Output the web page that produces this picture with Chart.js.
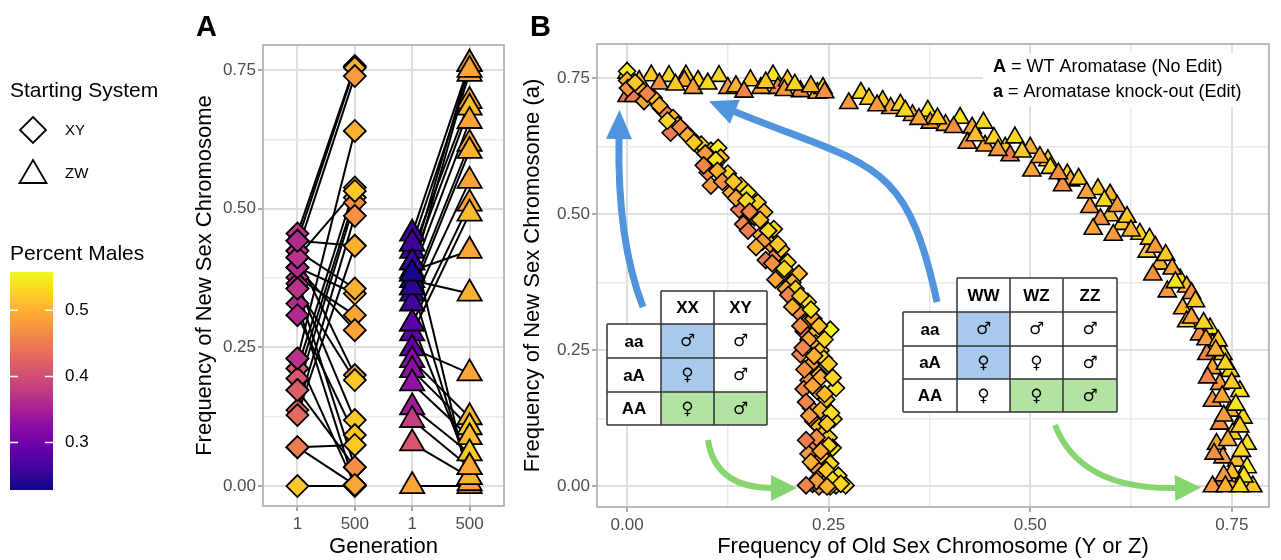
<!DOCTYPE html>
<html><head><meta charset="utf-8">
<script src="https://cdn.jsdelivr.net/npm/chart.js@4.4.1/dist/chart.umd.min.js"></script>
<style>
html,body{margin:0;padding:0;background:#fff;}
#wrap{position:relative;width:1281px;height:560px;overflow:hidden;background:#fff;}
canvas{position:absolute;top:0;left:0;}
</style></head><body>
<div id="wrap"><canvas id="cB" width="1281" height="560"></canvas><canvas id="cA" width="520" height="560"></canvas></div>
<script>
// ---------------- DATA ----------------
// Panel A: generation categories (XY group then ZW group)
const aCategories = ['1','500','1','500'];
// XY replicates: frequency of new sex chromosome at gen 1 and gen 500, and percent males
const xyGen1   = [0.455,0.442,0.424,0.412,0.394,0.376,0.365,0.356,0.329,0.308,0.230,0.212,0.194,0.173,0.137,0.128,0.070,0.000,0.424,0.394,0.412,0.356,0.230,0.173,0.070,0.442];
const xyGen500 = [0.757,0.754,0.739,0.200,0.347,0.308,0.119,0.034,0.002,0.092,0.640,0.538,0.520,0.511,0.487,0.433,0.074,0.000,0.356,0.281,0.532,0.191,0.002,0.034,0.002,0.433];
const xyPm1    = [0.37,0.36,0.38,0.37,0.36,0.37,0.36,0.37,0.36,0.36,0.37,0.41,0.41,0.42,0.43,0.43,0.45,0.52,0.38,0.36,0.37,0.37,0.37,0.42,0.45,0.36];
const xyPm500  = [0.50,0.50,0.48,0.48,0.50,0.49,0.52,0.47,0.49,0.52,0.50,0.52,0.52,0.47,0.47,0.50,0.52,0.49,0.50,0.49,0.52,0.52,0.49,0.47,0.49,0.50];
// ZW replicates
const zwGen1   = [0.455,0.437,0.424,0.403,0.388,0.383,0.371,0.358,0.347,0.329,0.293,0.275,0.248,0.227,0.209,0.185,0.142,0.119,0.077,0.000,0.437,0.403,0.358,0.293,0.383];
const zwGen500 = [0.761,0.743,0.694,0.682,0.424,0.658,0.347,0.617,0.604,0.550,0.509,0.491,0.203,0.124,0.106,0.088,0.059,0.034,0.016,0.000,0.005,0.761,0.016,0.034,0.750];
const zwPm1    = [0.258,0.258,0.26,0.255,0.235,0.235,0.245,0.25,0.255,0.262,0.281,0.285,0.29,0.32,0.327,0.33,0.344,0.384,0.41,0.49,0.258,0.255,0.25,0.281,0.235];
const zwPm500  = [0.49,0.49,0.49,0.51,0.49,0.49,0.50,0.49,0.50,0.49,0.49,0.51,0.49,0.50,0.52,0.51,0.52,0.49,0.52,0.49,0.49,0.48,0.50,0.49,0.49];

// Panel B: frequency of old (x) vs new (y) sex chromosome, percent males
const bXyOld = [0.000,0.000,0.001,0.014,0.021,0.033,0.042,0.048,0.057,0.063,
0.054,0.071,0.079,0.088,0.092,0.104,0.113,0.116,0.108,0.100,
0.120,0.125,0.104,0.141,0.129,0.150,0.162,0.139,0.158,0.170,
0.144,0.182,0.166,0.178,0.185,0.191,0.172,0.199,0.213,0.191,
0.205,0.197,0.209,0.224,0.212,0.222,0.231,0.252,0.219,0.231,
0.234,0.215,0.240,0.244,0.228,0.238,0.225,0.259,0.219,0.236,
0.247,0.228,0.256,0.231,0.238,0.243,0.250,0.255,0.231,0.225,
0.243,0.252,0.234,0.262,0.240,0.230,0.244,0.259,0.271,0.238,0.252,
0.010,0.025,0.040,0.050,0.066,0.075,0.083,0.097,0.110,0.095,
0.112,0.118,0.132,0.135,0.148,0.152,0.165,0.150,0.175,0.168,
0.160,0.187,0.180,0.195,0.184,0.200,0.215,0.205,0.228,0.215,
0.238,0.225,0.245,0.218,0.232,0.250,0.220,0.240,0.255,0.230,
0.245,0.222,0.240,0.253,0.226,0.248,0.235,0.222,0.250,0.240,
0.228,0.247,0.235,0.255,0.222,0.265,0.248];
const bXyNew = [0.763,0.746,0.732,0.735,0.708,0.714,0.695,0.686,0.677,0.664,
0.650,0.653,0.641,0.626,0.628,0.617,0.622,0.604,0.590,0.577,
0.564,0.575,0.553,0.553,0.540,0.540,0.522,0.509,0.495,0.504,
0.482,0.473,0.462,0.445,0.425,0.436,0.416,0.412,0.391,0.389,
0.375,0.363,0.363,0.339,0.321,0.300,0.308,0.288,0.285,0.279,
0.263,0.243,0.250,0.235,0.224,0.206,0.195,0.181,0.179,0.175,
0.160,0.144,0.124,0.120,0.110,0.097,0.090,0.071,0.078,0.060,
0.053,0.042,0.035,0.020,0.020,0.005,0.005,0.002,0.002,0.000,0.000,
0.742,0.722,0.700,0.672,0.660,0.645,0.632,0.612,0.600,0.590,
0.580,0.560,0.560,0.530,0.525,0.505,0.490,0.470,0.470,0.450,
0.440,0.445,0.410,0.400,0.380,0.352,0.350,0.330,0.325,0.295,
0.295,0.270,0.270,0.255,0.240,0.225,0.215,0.200,0.200,0.185,
0.170,0.155,0.140,0.135,0.130,0.115,0.090,0.085,0.075,0.065,
0.045,0.030,0.010,0.012,0.002,0.005,0.000];
const bXyPm = [0.55,0.50,0.47,0.50,0.49,0.51,0.48,0.46,0.50,0.52,
0.45,0.49,0.52,0.50,0.53,0.49,0.55,0.51,0.47,0.46,
0.50,0.53,0.48,0.52,0.50,0.54,0.52,0.45,0.49,0.51,
0.46,0.53,0.50,0.49,0.47,0.52,0.45,0.53,0.51,0.48,
0.50,0.49,0.53,0.54,0.47,0.50,0.49,0.56,0.44,0.51,
0.50,0.46,0.52,0.53,0.48,0.50,0.47,0.54,0.46,0.49,
0.52,0.48,0.53,0.47,0.50,0.51,0.52,0.54,0.46,0.48,
0.50,0.53,0.47,0.54,0.49,0.45,0.50,0.52,0.54,0.47,0.51,
0.52,0.46,0.50,0.53,0.47,0.50,0.52,0.48,0.54,0.46,
0.50,0.47,0.52,0.49,0.53,0.46,0.51,0.45,0.53,0.48,
0.50,0.52,0.47,0.53,0.49,0.46,0.52,0.50,0.54,0.47,
0.51,0.49,0.53,0.46,0.50,0.52,0.47,0.50,0.53,0.49,
0.51,0.46,0.50,0.54,0.48,0.52,0.47,0.45,0.53,0.49,
0.50,0.52,0.48,0.54,0.46,0.53,0.50];
const bZwOld = [0.000,0.000,0.008,0.030,0.052,0.073,0.071,0.088,0.114,0.125,
0.153,0.166,0.181,0.187,0.199,0.215,0.236,0.243,0.275,0.290,
0.317,0.327,0.339,0.354,0.373,0.376,0.395,0.413,0.428,0.442,
0.422,0.444,0.469,0.481,0.500,0.475,0.502,0.522,0.546,0.550,
0.540,0.584,0.599,0.574,0.599,0.587,0.614,0.578,0.636,0.603,
0.645,0.661,0.652,0.686,0.694,0.670,0.689,0.694,0.723,0.710,
0.726,0.719,0.739,0.726,0.748,0.735,0.760,0.726,0.748,0.764,
0.735,0.751,0.731,0.769,0.739,0.756,0.769,0.735,0.751,0.769,
0.776,0.726,
0.015,0.040,0.060,0.082,0.100,0.135,0.145,0.172,0.195,0.208,
0.228,0.245,0.300,0.310,0.345,0.362,0.385,0.405,0.432,0.455,
0.460,0.490,0.512,0.525,0.535,0.560,0.570,0.592,0.608,0.620,
0.625,0.648,0.655,0.668,0.676,0.680,0.700,0.705,0.700,0.715,
0.718,0.733,0.730,0.742,0.720,0.750,0.738,0.755,0.740,0.760,
0.745,0.762,0.728,0.750,0.765,0.740,0.742,0.760];
const bZwNew = [0.760,0.717,0.717,0.755,0.754,0.755,0.745,0.745,0.754,0.732,
0.746,0.732,0.755,0.732,0.746,0.726,0.723,0.732,0.704,0.723,
0.708,0.695,0.701,0.682,0.690,0.668,0.664,0.677,0.659,0.668,
0.631,0.626,0.622,0.641,0.622,0.608,0.580,0.599,0.573,0.562,
0.553,0.546,0.536,0.513,0.498,0.491,0.482,0.473,0.464,0.462,
0.431,0.409,0.389,0.380,0.367,0.358,0.327,0.303,0.290,0.279,
0.261,0.243,0.243,0.217,0.212,0.188,0.175,0.157,0.139,0.126,
0.115,0.097,0.078,0.078,0.053,0.047,0.035,0.005,0.005,0.002,
0.000,0.000,
0.745,0.740,0.738,0.732,0.740,0.735,0.725,0.742,0.728,0.738,
0.735,0.724,0.712,0.700,0.690,0.675,0.676,0.660,0.645,0.640,
0.618,0.615,0.605,0.585,0.575,0.565,0.540,0.525,0.515,0.495,
0.470,0.455,0.440,0.425,0.400,0.375,0.355,0.340,0.310,0.300,
0.270,0.268,0.250,0.225,0.200,0.190,0.165,0.150,0.130,0.110,
0.085,0.065,0.060,0.025,0.018,0.020,0.000,0.000];
const bZwPm = [0.55,0.44,0.45,0.52,0.53,0.52,0.49,0.53,0.53,0.48,
0.52,0.49,0.54,0.47,0.52,0.46,0.49,0.53,0.48,0.53,
0.52,0.49,0.53,0.50,0.54,0.47,0.50,0.54,0.49,0.53,
0.47,0.49,0.52,0.53,0.50,0.45,0.49,0.52,0.53,0.50,
0.47,0.52,0.50,0.48,0.51,0.47,0.52,0.49,0.53,0.48,
0.52,0.50,0.47,0.53,0.51,0.48,0.50,0.52,0.54,0.47,
0.50,0.46,0.53,0.49,0.52,0.48,0.54,0.47,0.50,0.53,
0.46,0.52,0.49,0.54,0.48,0.51,0.55,0.45,0.50,0.53,
0.52,0.48,
0.50,0.47,0.52,0.48,0.53,0.50,0.46,0.52,0.48,0.53,
0.50,0.47,0.52,0.48,0.53,0.49,0.52,0.47,0.51,0.53,
0.48,0.52,0.49,0.53,0.47,0.52,0.49,0.53,0.48,0.52,
0.50,0.53,0.48,0.52,0.49,0.54,0.47,0.52,0.49,0.53,
0.48,0.52,0.50,0.53,0.46,0.52,0.49,0.54,0.48,0.52,
0.50,0.53,0.47,0.51,0.54,0.48,0.50,0.53];

// Axis ticks
const yGridValues = [0,0.125,0.25,0.375,0.5,0.625,0.75];
const yMajorTicks = [0,0.25,0.5,0.75];
const yTickLabels = ['0.00','0.25','0.50','0.75'];
const xMajorTicksB = [0,0.25,0.5,0.75];
const xTickLabelsB = ['0.00','0.25','0.50','0.75'];
const xGridValuesB = [0,0.125,0.25,0.375,0.5,0.625,0.75];
const colorbarTicks = [0.5,0.4,0.3];
const colorbarLabels = ['0.5','0.4','0.3'];
const pmRange = [0.228,0.558];

// Annotation tables
const rowLabels = ['aa','aA','AA'];
const xyCols = ['XX','XY'];
const xyTable = [['♂','♂'],['♀','♂'],['♀','♂']];
const zwCols = ['WW','WZ','ZZ'];
const zwTable = [['♂','♂','♂'],['♀','♀','♂'],['♀','♀','♂']];

// ---------------- HELPERS ----------------
const FONT = "'Liberation Sans', Arial, Helvetica, sans-serif";
const SYM_FONT = "'DejaVu Sans', sans-serif";
const plasmaStops = ['#0d0887','#41049d','#6a00a8','#8f0da4','#b12a90','#cc4778','#e16462','#f2844b','#fca636','#fcce25','#f0f921'];
function hex2rgb(h){return [parseInt(h.slice(1,3),16),parseInt(h.slice(3,5),16),parseInt(h.slice(5,7),16)];}
function plasmaT(t){
  t=Math.max(0,Math.min(1,t));
  const p=t*10, i=Math.min(9,Math.floor(p)), f=p-i;
  const a=hex2rgb(plasmaStops[i]), b=hex2rgb(plasmaStops[i+1]);
  return 'rgb('+a.map((v,k)=>Math.round(v+(b[k]-v)*f)).join(',')+')';
}
function pmColor(v){return plasmaT((v-pmRange[0])/(pmRange[1]-pmRange[0]));}
function isMajor(v,majors){return majors.some(m=>Math.abs(m-v)<1e-9);}
function gridOpts(majors){
  return {
    color:c=>(c.tick&&isMajor(c.tick.value,majors))?'#dedede':'#e9e9e9',
    lineWidth:c=>(c.tick&&isMajor(c.tick.value,majors))?2:1.5,
    tickColor:c=>(c.tick&&isMajor(c.tick.value,majors))?'#a8a8a8':'rgba(0,0,0,0)',
    tickWidth:2, tickLength:5, drawTicks:true
  };
}
function labelCb(majors,labels){
  return function(value){const i=majors.findIndex(m=>Math.abs(m-value)<1e-9);return i>=0?labels[i]:'';};
}
const tickFont={family:FONT,size:17};
const titleFont={family:FONT,size:22};

function drawArrow(ctx,pts,color,lw,headLen,headHalf){
  ctx.save();
  ctx.strokeStyle=color;ctx.fillStyle=color;ctx.lineWidth=lw;ctx.lineCap='butt';
  ctx.beginPath();ctx.moveTo(pts[0][0],pts[0][1]);
  if(pts.length===3) ctx.quadraticCurveTo(pts[1][0],pts[1][1],pts[2][0],pts[2][1]);
  else ctx.bezierCurveTo(pts[1][0],pts[1][1],pts[2][0],pts[2][1],pts[3][0],pts[3][1]);
  ctx.stroke();
  const c=pts[pts.length-2], e=pts[pts.length-1];
  let dx=e[0]-c[0], dy=e[1]-c[1]; const L=Math.hypot(dx,dy); dx/=L; dy/=L;
  const nx=-dy, ny=dx;
  ctx.beginPath();
  ctx.moveTo(e[0]-dx*2+nx*headHalf,e[1]-dy*2+ny*headHalf);
  ctx.lineTo(e[0]+dx*headLen,e[1]+dy*headLen);
  ctx.lineTo(e[0]-dx*2-nx*headHalf,e[1]-dy*2-ny*headHalf);
  ctx.closePath();ctx.fill();
  ctx.restore();
}
function drawTable(ctx,colX,rowY,cols,cells,fills){
  const BLUE='#a8c9eb', GREEN='#b3e3a2';
  ctx.save();
  ctx.fillStyle='#fff';
  ctx.fillRect(colX[1],rowY[0],colX[colX.length-1]-colX[1],rowY[1]-rowY[0]);
  ctx.fillRect(colX[0],rowY[1],colX[colX.length-1]-colX[0],rowY[rowY.length-1]-rowY[1]);
  for(const k in fills){
    const [r,c]=k.split(',').map(Number);
    ctx.fillStyle=fills[k]==='b'?BLUE:GREEN;
    ctx.fillRect(colX[c+1],rowY[r+1],colX[c+2]-colX[c+1],rowY[r+2]-rowY[r+1]);
  }
  ctx.strokeStyle='#333';ctx.lineWidth=1.5;
  ctx.beginPath();
  for(let c=1;c<colX.length;c++){ctx.moveTo(colX[c],rowY[0]);ctx.lineTo(colX[c],rowY[rowY.length-1]);}
  ctx.moveTo(colX[1],rowY[0]);ctx.lineTo(colX[colX.length-1],rowY[0]);
  for(let r=1;r<rowY.length;r++){ctx.moveTo(colX[0],rowY[r]);ctx.lineTo(colX[colX.length-1],rowY[r]);}
  ctx.moveTo(colX[0],rowY[1]);ctx.lineTo(colX[0],rowY[rowY.length-1]);
  ctx.stroke();
  ctx.fillStyle='#000';ctx.textAlign='center';ctx.textBaseline='middle';
  ctx.font='bold 17px '+FONT;
  cols.forEach((t,c)=>ctx.fillText(t,(colX[c+1]+colX[c+2])/2,(rowY[0]+rowY[1])/2+1));
  rowLabels.forEach((t,r)=>ctx.fillText(t,(colX[0]+colX[1])/2,(rowY[r+1]+rowY[r+2])/2+1));
  ctx.font='17px '+SYM_FONT;
  cells.forEach((row,r)=>row.forEach((t,c)=>ctx.fillText(t,(colX[c+1]+colX[c+2])/2,(rowY[r+1]+rowY[r+2])/2+1)));
  ctx.restore();
}
const borderPlugin={id:'panelBorder',afterDatasetsDraw(chart){
  const a=chart.chartArea,ctx=chart.ctx;ctx.save();ctx.strokeStyle='#b3b3b3';ctx.lineWidth=1.8;
  ctx.strokeRect(a.left,a.top,a.right-a.left,a.bottom-a.top);ctx.restore();}};

// ---------------- PANEL A ----------------
const dsA=[];
xyGen1.forEach((v,i)=>dsA.push({data:[{x:1,y:v},{x:2,y:xyGen500[i]}],showLine:true,borderColor:'#000',borderWidth:2,pointRadius:0,order:2}));
zwGen1.forEach((v,i)=>dsA.push({data:[{x:3,y:v},{x:4,y:zwGen500[i]}],showLine:true,borderColor:'#000',borderWidth:2,pointRadius:0,order:2}));
dsA.push({data:xyGen1.map(v=>({x:1,y:v})).concat(xyGen500.map(v=>({x:2,y:v}))),
  pointStyle:'rectRot',pointRadius:11,backgroundColor:xyPm1.concat(xyPm500).map(pmColor),borderColor:'#000',borderWidth:1.8,order:1});
dsA.push({data:zwGen1.map(v=>({x:3,y:v})).concat(zwGen500.map(v=>({x:4,y:v}))),
  pointStyle:'triangle',pointRadius:14,backgroundColor:zwPm1.concat(zwPm500).map(pmColor),borderColor:'#000',borderWidth:1.8,order:1});

const legendPlugin={id:'legendA',afterDraw(chart){
  const ctx=chart.ctx;ctx.save();
  ctx.fillStyle='#000';ctx.textBaseline='alphabetic';ctx.textAlign='left';
  ctx.font='bold 29px '+FONT;ctx.fillText('A',196,36);
  ctx.font='21px '+FONT;ctx.fillText('Starting System',10,97);
  ctx.strokeStyle='#000';ctx.lineWidth=1.8;ctx.fillStyle='#fff';
  ctx.beginPath();ctx.moveTo(33,117);ctx.lineTo(46,130);ctx.lineTo(33,143);ctx.lineTo(20,130);ctx.closePath();ctx.fill();ctx.stroke();
  ctx.beginPath();ctx.moveTo(33,160);ctx.lineTo(46.5,183);ctx.lineTo(19.5,183);ctx.closePath();ctx.fill();ctx.stroke();
  ctx.fillStyle='#000';ctx.font='15px '+FONT;ctx.textBaseline='middle';
  ctx.fillText('XY',65,131);ctx.fillText('ZW',65,174);
  ctx.textBaseline='alphabetic';ctx.font='21px '+FONT;ctx.fillText('Percent Males',10,260);
  const top=272,bot=490,L=10,R=53;
  const g=ctx.createLinearGradient(0,bot,0,top);
  for(let k=0;k<=20;k++){g.addColorStop(k/20,plasmaT(k/20));}
  ctx.fillStyle=g;ctx.fillRect(L,top,R-L,bot-top);
  ctx.strokeStyle='#fff';ctx.lineWidth=1.5;ctx.fillStyle='#000';ctx.font='17px '+FONT;ctx.textBaseline='middle';
  colorbarTicks.forEach((v,i)=>{
    const y=bot-(v-pmRange[0])/(pmRange[1]-pmRange[0])*(bot-top);
    ctx.beginPath();ctx.moveTo(L,y);ctx.lineTo(L+8,y);ctx.moveTo(R-8,y);ctx.lineTo(R,y);ctx.stroke();
    ctx.fillText(colorbarLabels[i],65,y);
  });
  ctx.restore();
}};

new Chart(document.getElementById('cA'),{
  type:'scatter',
  data:{datasets:dsA},
  options:{
    responsive:false,animation:false,events:[],
    layout:{padding:{left:180,top:45,right:16,bottom:0}},
    plugins:{legend:{display:false},tooltip:{enabled:false}},
    scales:{
      x:{type:'linear',min:0.4,max:4.6,bounds:'data',
        afterBuildTicks:s=>{s.ticks=aCategories.map((_,i)=>({value:i+1}));},
        afterFit:s=>{s.height=54;},
        ticks:{autoSkip:false,maxRotation:0,padding:3,color:'#4d4d4d',font:tickFont,
          callback:v=>{const i=Math.round(v)-1;return aCategories[i]!==undefined?aCategories[i]:'';}},
        grid:gridOpts([1,2,3,4]),border:{display:false},
        title:{display:true,text:'Generation',color:'#000',font:titleFont,padding:{top:0,bottom:0}}},
      y:{type:'linear',min:-0.036,max:0.795,bounds:'data',
        afterBuildTicks:s=>{s.ticks=yGridValues.map(v=>({value:v}));},
        afterFit:s=>{s.width=83;},
        ticks:{autoSkip:false,padding:2,color:'#4d4d4d',font:tickFont,callback:labelCb(yMajorTicks,yTickLabels)},
        grid:gridOpts(yMajorTicks),border:{display:false},
        title:{display:true,text:'Frequency of New Sex Chromosome',color:'#000',font:titleFont,padding:{top:12,bottom:0}}}
    }
  },
  plugins:[borderPlugin,legendPlugin]
});

// ---------------- PANEL B ----------------
const annotPlugin={id:'annotB',afterDraw(chart){
  const ctx=chart.ctx;ctx.save();
  ctx.fillStyle='#000';ctx.textBaseline='alphabetic';ctx.textAlign='left';
  ctx.font='bold 29px '+FONT;ctx.fillText('B',530,36);
  ctx.fillStyle='#fff';ctx.fillRect(983,53,285,54);
  ctx.fillStyle='#000';ctx.textBaseline='middle';
  const lines=[['A',' = WT Aromatase (No Edit)',67],['a',' = Aromatase knock-out (Edit)',92]];
  lines.forEach(l=>{
    ctx.font='bold 18px '+FONT;const w=ctx.measureText(l[0]).width;ctx.fillText(l[0],993,l[2]);
    ctx.font='18px '+FONT;ctx.fillText(l[1],993+w,l[2]);
  });
  drawTable(ctx,[607,661,714,767],[291,324,358,392,425],xyCols,xyTable,{'0,0':'b','1,0':'b','2,0':'g','2,1':'g'});
  drawTable(ctx,[903,957,1010,1063,1117],[278,312,346,379,412],zwCols,zwTable,{'0,0':'b','1,0':'b','2,1':'g','2,2':'g'});
  const BL='#4f94dc', GR='#88d46f';
  drawArrow(ctx,[[643,307],[617,240],[619,137]],BL,7,27,13);
  drawArrow(ctx,[[937,302],[905.5,155.5],[871.6,167.7],[733,111]],BL,7,26,13);
  drawArrow(ctx,[[708,440],[715,488],[773,488]],GR,6,24,13);
  drawArrow(ctx,[[1055,425],[1080,490],[1177,488]],GR,6,24,13);
  ctx.restore();
}};

new Chart(document.getElementById('cB'),{
  type:'scatter',
  data:{datasets:[
    {label:'XY',data:bXyOld.map((x,i)=>({x,y:bXyNew[i]})),pointStyle:'rectRot',pointRadius:8.5,
      backgroundColor:bXyPm.map(pmColor),borderColor:'#000',borderWidth:1.6},
    {label:'ZW',data:bZwOld.map((x,i)=>({x,y:bZwNew[i]})),pointStyle:'triangle',pointRadius:10.5,
      backgroundColor:bZwPm.map(pmColor),borderColor:'#000',borderWidth:1.6}
  ]},
  options:{
    responsive:false,animation:false,events:[],
    layout:{padding:{left:520,top:44,right:11,bottom:0}},
    plugins:{legend:{display:false},tooltip:{enabled:false}},
    scales:{
      x:{type:'linear',min:-0.0373,max:0.796,bounds:'data',
        afterBuildTicks:s=>{s.ticks=xGridValuesB.map(v=>({value:v}));},
        afterFit:s=>{s.height=53;},
        ticks:{autoSkip:false,maxRotation:0,padding:3,color:'#4d4d4d',font:tickFont,callback:labelCb(xMajorTicksB,xTickLabelsB)},
        grid:gridOpts(xMajorTicksB),border:{display:false},
        title:{display:true,text:'Frequency of Old Sex Chromosome (Y or Z)',color:'#000',font:titleFont,padding:{top:0,bottom:0}}},
      y:{type:'linear',min:-0.0377,max:0.813,bounds:'data',
        afterBuildTicks:s=>{s.ticks=yGridValues.map(v=>({value:v}));},
        afterFit:s=>{s.width=77;},
        ticks:{autoSkip:false,padding:2,color:'#4d4d4d',font:tickFont,callback:labelCb(yMajorTicks,yTickLabels)},
        grid:gridOpts(yMajorTicks),border:{display:false},
        title:{display:true,text:'Frequency of New Sex Chromosome (a)',color:'#000',font:titleFont,padding:{top:0,bottom:0}}}
    }
  },
  plugins:[borderPlugin,annotPlugin]
});
</script>
</body></html>
